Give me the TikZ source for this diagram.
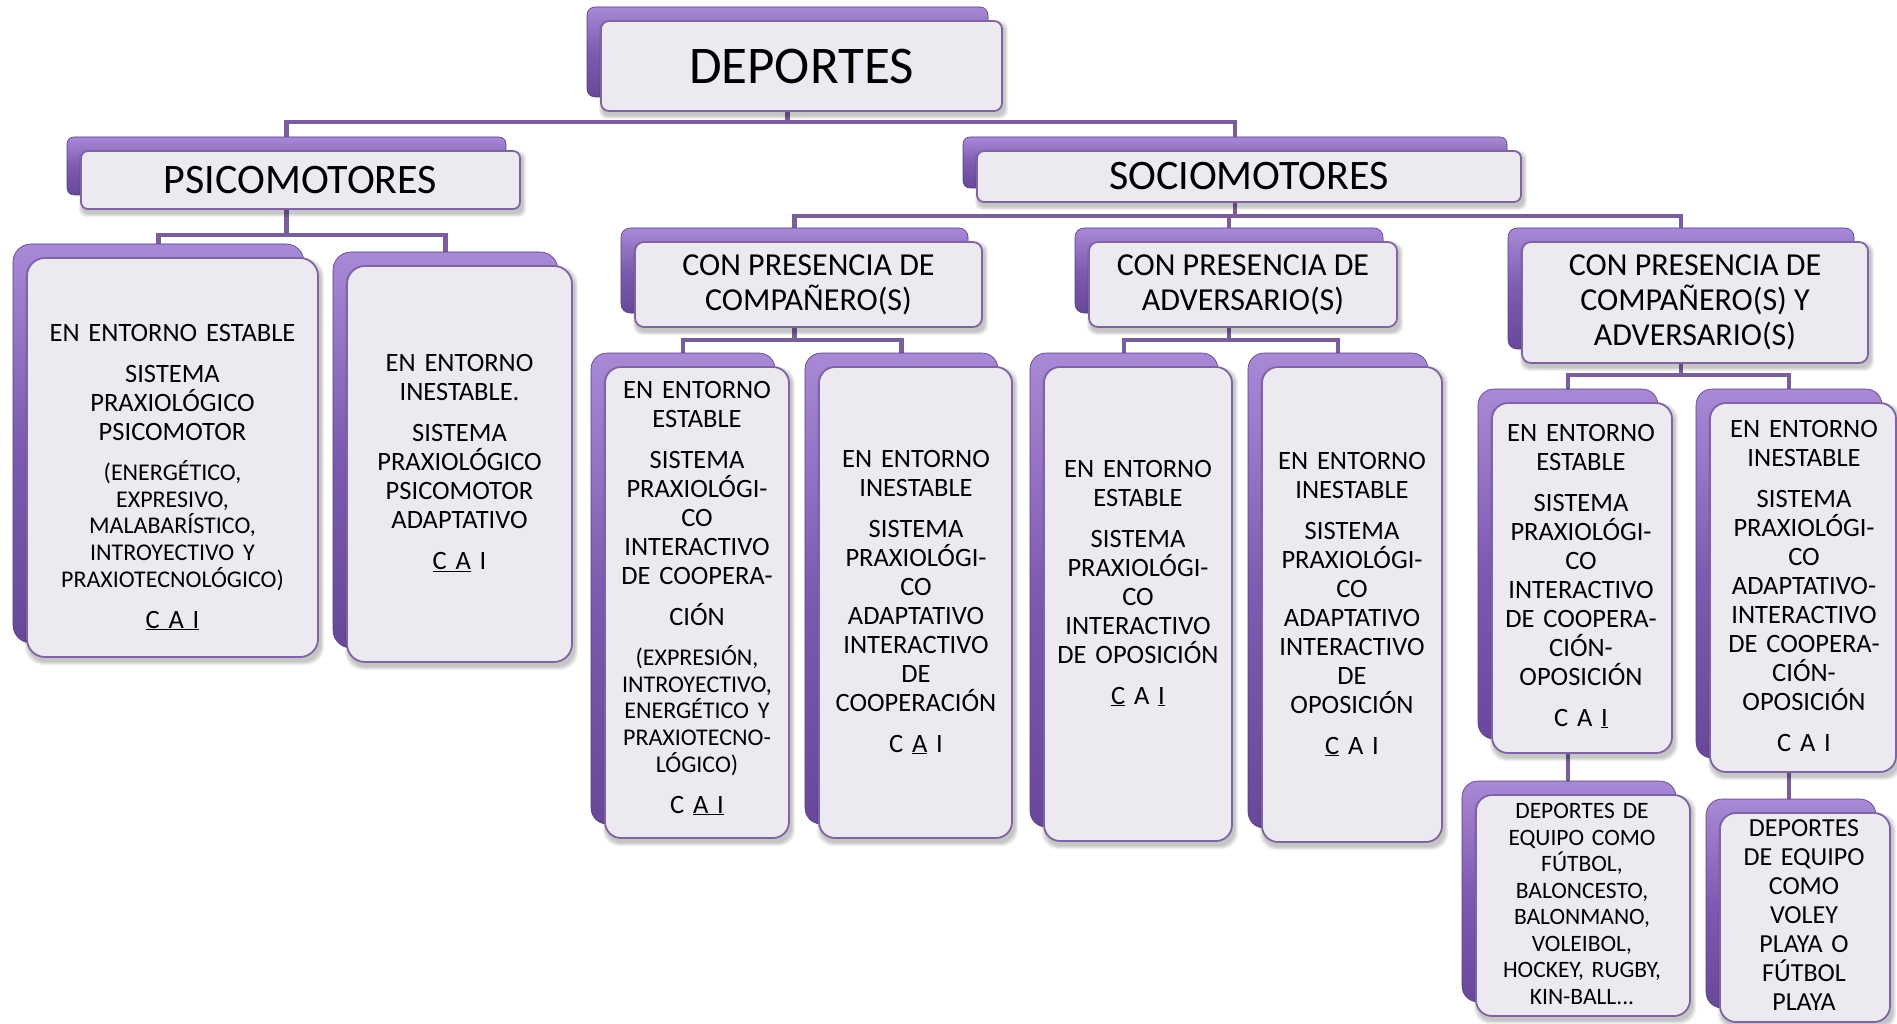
\documentclass[tikz,border=0pt]{standalone}
\usepackage{fontspec}
\setmainfont{Carlito}
\pgfdeclarelayer{under}
\pgfsetlayers{under,main}

\definecolor{linkcol}{HTML}{7A5E9C}
\definecolor{edgecol}{HTML}{8064A2}
\definecolor{paper}{HTML}{ECEAF0}
\definecolor{backtop}{HTML}{A889D6}
\definecolor{backmid}{HTML}{7C5CB0}
\definecolor{backbot}{HTML}{67489A}

% type sizes (1pt = 1 pixel of the final picture)
\newcommand\hugetxt{\fontsize{53}{60}\selectfont}
\newcommand\headtxt{\fontsize{42}{48}\selectfont}
\newcommand\subtxt{\fontsize{32}{35}\selectfont}
\newcommand\bigtxt{\fontsize{26.5}{29}\selectfont}
\newcommand\smalltxt{\fontsize{24}{26.6}\selectfont}
\newcommand\pgap{\par\vspace{12pt}}
\newcommand\spgap{\par\vspace{14pt}}

\tikzset{
  backbox/.style={top color=backtop, bottom color=backbot, middle color=backmid,
                  draw=backbot!85!black, line width=0.6pt, rounded corners=10pt},
  frontbox/.style={draw=edgecol, line width=1.8pt, fill=paper, rounded corners=10pt,
                   inner sep=0pt, outer sep=0pt, align=center},
  softshadow/.style={fill=black, fill opacity=0.06, draw=none, rounded corners=10pt},
  link/.style={draw=linkcol, line width=4.5pt},
  bodytext/.style={align=center, text width=300pt, inner sep=0pt, font=\bigtxt},
  smalltext/.style={align=center, text width=300pt, inner sep=0pt, font=\fontsize{23.5}{26.5}\selectfont},
}

% \cardpair[style]{name}{x1}{y1}{x2}{y2}{text}: purple back plate offset up-left,
% soft shadow, light front panel on top; (name-in) is where a connector enters
% from above, (name-out) where connectors leave downwards.
\newcommand\cardpair[7][]{%
  \path[backbox,#1] ({#3-14},{#4-14}) rectangle ({#5-14},{#6-14});
  \foreach \k in {1,2,3,4}{%
    \path[softshadow,#1] ({#3+2-\k},{#4+4-\k}) rectangle ({#5+2+\k},{#6+4+\k});}
  \node[frontbox,#1, minimum width={(#5-#3)*1pt}, minimum height={(#6-#4)*1pt}]
       (#2) at ({(#3+#5)/2},{(#4+#6)/2}) {#7};
  \coordinate (#2-in) at ({(#3+#5)/2-14},{#4-12});
  \coordinate (#2-out) at ({(#3+#5)/2-14},{(#4+#6)/2});
}

\begin{document}
\begin{tikzpicture}[x=1pt,y=-1pt]
\useasboundingbox (0,0) rectangle (1897,1024);
\begin{pgfonlayer}{under}
  \fill[white] (0,0) rectangle (1897,1024);
\end{pgfonlayer}

% ---- level 0 and 1
\cardpair[font=\hugetxt, rounded corners=8pt]{dep}{601}{21}{1002}{111}{DEPORTES}
\cardpair[font=\headtxt, rounded corners=7pt]{psi}{81}{151}{520}{209}{PSICOMOTORES}
\cardpair[font=\headtxt, rounded corners=7pt]{soc}{977}{151}{1521}{202}{SOCIOMOTORES}

% ---- level 2
\cardpair[font=\subtxt, rounded corners=9pt]{com}{635}{242}{982}{327}{CON PRESENCIA DE\\COMPAÑERO(S)}
\cardpair[font=\subtxt, rounded corners=9pt]{adv}{1089}{242}{1397}{327}{CON PRESENCIA DE\\ADVERSARIO(S)}
\cardpair[font=\subtxt, rounded corners=9pt]{cya}{1522}{242}{1868}{363}{CON PRESENCIA DE\\COMPAÑERO(S) Y\\ADVERSARIO(S)}

% ---- level 3
\cardpair[rounded corners=18pt]{p1}{27}{258}{318}{657}{}
\cardpair[rounded corners=18pt]{p2}{347}{266}{572}{662}{}
\cardpair[rounded corners=16pt]{c1}{605}{367}{789}{838}{}
\cardpair[rounded corners=16pt]{c2}{819}{367}{1012}{838}{}
\cardpair[rounded corners=16pt]{a1}{1044}{367}{1232}{841}{}
\cardpair[rounded corners=16pt]{a2}{1262}{367}{1442}{842}{}
\cardpair[rounded corners=16pt]{y1}{1492}{403}{1672}{753}{}
\cardpair[rounded corners=16pt]{y2}{1710}{403}{1896}{772}{}

% ---- level 4
\cardpair[rounded corners=16pt]{g1}{1476}{795}{1690}{1016}{}
\cardpair[rounded corners=16pt]{g2}{1720}{813}{1890}{1022}{}

% ---- connectors (behind the cards)
\begin{pgfonlayer}{under}
  \coordinate (j0) at (0,122);
  \coordinate (j1) at (0,235);
  \coordinate (j2) at (0,216);
  \coordinate (j3) at (0,340);
  \coordinate (j5) at (0,375);
  \draw[link] (dep-out) -- (dep-out |- j0);
  \draw[link] (psi-in) |- (dep-out |- j0) -| (soc-in);
  \draw[link] (psi-out) -- (psi-out |- j1);
  \draw[link] (p1-in) |- (psi-out |- j1) -| (p2-in);
  \draw[link] (soc-out) -- (soc-out |- j2);
  \draw[link] (com-in) |- (soc-out |- j2) -| (cya-in);
  \draw[link] (adv-in) -- (adv-in |- j2);
  \draw[link] (com-out) -- (com-out |- j3);
  \draw[link] (c1-in) |- (com-out |- j3) -| (c2-in);
  \draw[link] (adv-out) -- (adv-out |- j3);
  \draw[link] (a1-in) |- (adv-out |- j3) -| (a2-in);
  \draw[link] (cya-out) -- (cya-out |- j5);
  \draw[link] (y1-in) |- (cya-out |- j5) -| (y2-in);
  \draw[link] (y1-out) -- (y1-out |- g1-in);
  \draw[link] (y2-out) -- (y2-out |- g2-in);
\end{pgfonlayer}

% ---- texts of the tall cards
\node[bodytext] (p1-txt) at (172.5,477) {EN ENTORNO ESTABLE\pgap
  SISTEMA\\PRAXIOLÓGICO\\PSICOMOTOR\spgap
  {\smalltxt (ENERGÉTICO,\\EXPRESIVO,\\MALABARÍSTICO,\\INTROYECTIVO Y\\PRAXIOTECNOLÓGICO)\par}\pgap
  \underline{C A I}};

\node[bodytext] (p2-txt) at (459.5,463) {EN ENTORNO\\INESTABLE.\pgap
  SISTEMA\\PRAXIOLÓGICO\\PSICOMOTOR\\ADAPTATIVO\pgap
  \underline{C A} I};

\node[bodytext] (c1-txt) at (697,598) {EN ENTORNO\\ESTABLE\pgap
  SISTEMA\\PRAXIOLÓGI-\\CO\\INTERACTIVO\\DE COOPERA-\pgap
  CIÓN\spgap
  {\smalltxt (EXPRESIÓN,\\INTROYECTIVO,\\ENERGÉTICO Y\\PRAXIOTECNO-\\LÓGICO)\par}\pgap
  C \underline{A I}};

\node[bodytext] (c2-txt) at (916,602) {EN ENTORNO\\INESTABLE\pgap
  SISTEMA\\PRAXIOLÓGI-\\CO\\ADAPTATIVO\\INTERACTIVO\\DE\\COOPERACIÓN\pgap
  C \underline{A} I};

\node[bodytext] (a1-txt) at (1138,583) {EN ENTORNO\\ESTABLE\pgap
  SISTEMA\\PRAXIOLÓGI-\\CO\\INTERACTIVO\\DE OPOSICIÓN\pgap
  \underline{C} A \underline{I}};

\node[bodytext] (a2-txt) at (1352,604) {EN ENTORNO\\INESTABLE\pgap
  SISTEMA\\PRAXIOLÓGI-\\CO\\ADAPTATIVO\\INTERACTIVO\\DE\\OPOSICIÓN\pgap
  \underline{C} A I};

\node[bodytext] (y1-txt) at (1581,576) {EN ENTORNO\\ESTABLE\pgap
  SISTEMA\\PRAXIOLÓGI-\\CO\\INTERACTIVO\\DE COOPERA-\\CIÓN-\\OPOSICIÓN\pgap
  C A \underline{I}};

\node[bodytext] (y2-txt) at (1804,586) {EN ENTORNO\\INESTABLE\pgap
  SISTEMA\\PRAXIOLÓGI-\\CO\\ADAPTATIVO-\\INTERACTIVO\\DE COOPERA-\\CIÓN-\\OPOSICIÓN\pgap
  C A I};

\node[smalltext] (g1-txt) at (1582,904) {DEPORTES DE\\EQUIPO COMO\\FÚTBOL,\\BALONCESTO,\\BALONMANO,\\VOLEIBOL,\\HOCKEY, RUGBY,\\KIN-BALL...};

\node[bodytext, font=\fontsize{26}{29}\selectfont] (g2-txt) at (1804,915) {DEPORTES\\DE EQUIPO\\COMO\\VOLEY\\PLAYA O\\FÚTBOL\\PLAYA};
\end{tikzpicture}
\end{document}
